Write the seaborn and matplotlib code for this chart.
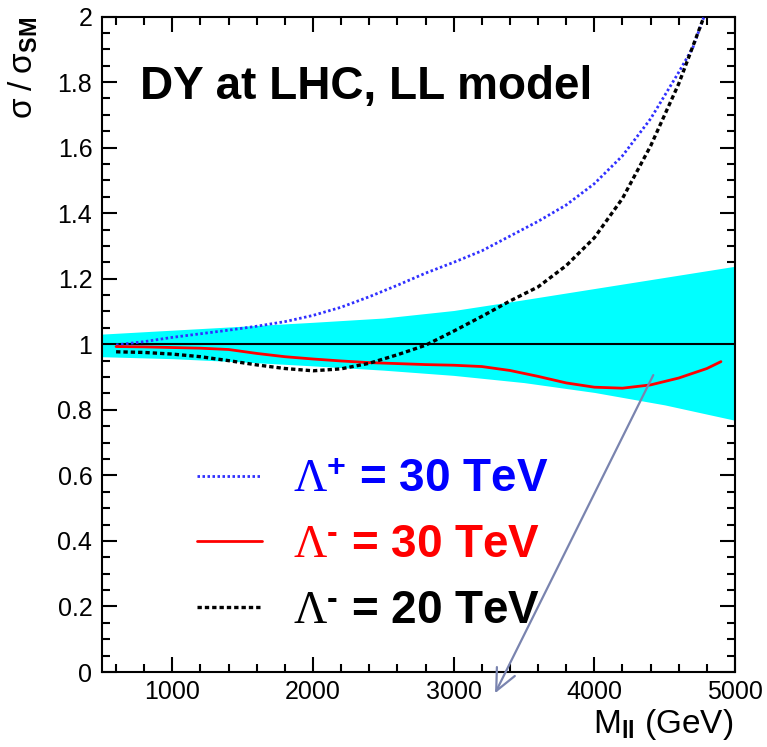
import numpy as np
import pandas as pd
import matplotlib
matplotlib.use("Agg")
import matplotlib.pyplot as plt
from matplotlib.ticker import MultipleLocator, FuncFormatter
import seaborn as sns

# Dilepton invariant mass (GeV) and sigma / sigma_SM for the contact-interaction scenarios
m_plus30 = [600, 800, 1000, 1200, 1400, 1600, 1800, 2000, 2200, 2400, 2600, 2800,
            3000, 3200, 3400, 3600, 3800, 4000, 4200, 4400, 4600, 4700, 4780]
r_plus30 = [0.998, 1.008, 1.021, 1.032, 1.043, 1.055, 1.069, 1.088, 1.113, 1.145, 1.180, 1.217,
            1.250, 1.285, 1.330, 1.375, 1.425, 1.490, 1.575, 1.688, 1.830, 1.905, 2.0]

m_minus30 = [600, 800, 1000, 1200, 1400, 1600, 1800, 2000, 2200, 2400, 2600, 2800,
             3000, 3200, 3400, 3600, 3800, 4000, 4200, 4400, 4600, 4800, 4900]
r_minus30 = [0.993, 0.992, 0.990, 0.988, 0.984, 0.972, 0.962, 0.955, 0.949, 0.944, 0.941, 0.938,
             0.936, 0.932, 0.920, 0.902, 0.882, 0.869, 0.866, 0.876, 0.897, 0.926, 0.947]

m_minus20 = [600, 800, 1000, 1200, 1400, 1600, 1800, 2000, 2200, 2400, 2600, 2800,
             3000, 3200, 3400, 3600, 3800, 4000, 4200, 4400, 4600, 4780]
r_minus20 = [0.977, 0.975, 0.970, 0.962, 0.950, 0.937, 0.926, 0.919, 0.925, 0.942, 0.968, 0.997,
             1.040, 1.085, 1.132, 1.175, 1.240, 1.325, 1.445, 1.605, 1.795, 2.0]

# SM uncertainty band
m_band = [500, 1000, 1500, 2000, 2500, 3000, 3500, 4000, 4500, 5000]
band_hi = [1.031, 1.043, 1.055, 1.067, 1.080, 1.103, 1.136, 1.170, 1.204, 1.238]
band_lo = [0.962, 0.956, 0.946, 0.934, 0.921, 0.905, 0.883, 0.853, 0.815, 0.768]

labels = [r"$\Lambda^{\mathbf{+}}$ = 30 TeV",
          "$\\Lambda^{\\mathbf{\u2010}}$ = 30 TeV",
          "$\\Lambda^{\\mathbf{\u2010}}$ = 20 TeV"]
colors = ["#3030ff", "#ff0000", "#000000"]
text_colors = ["#0000ff", "#ff0000", "#000000"]

sns.set_theme(style="ticks")
plt.rcParams["font.family"] = ["Liberation Sans", "DejaVu Sans"]
plt.rcParams["mathtext.fontset"] = "custom"
plt.rcParams["mathtext.rm"] = "Liberation Serif"
plt.rcParams["mathtext.it"] = "Liberation Serif:italic"
plt.rcParams["mathtext.bf"] = "Liberation Sans:bold"
plt.rcParams["axes.linewidth"] = 1.5
for key in ["text.color", "axes.labelcolor", "xtick.color", "ytick.color", "axes.edgecolor"]:
    plt.rcParams[key] = "black"

fig = plt.figure(figsize=(7.67, 7.47), dpi=100)
ax = fig.add_axes([0.1330, 0.1004, 0.8253, 0.8775])

ax.fill_between(m_band, band_lo, band_hi, color="#00ffff", lw=0, zorder=1)
ax.axhline(1.0, color="black", lw=1.5, zorder=2)

df_p30 = pd.DataFrame({"M": m_plus30, "ratio": r_plus30})
df_m30 = pd.DataFrame({"M": m_minus30, "ratio": r_minus30})
df_m20 = pd.DataFrame({"M": m_minus20, "ratio": r_minus20})

styles = [(0, (0.9, 0.9)), "-", (0, (1.3, 0.9))]
widths = [2.0, 2.0, 2.4]
for df, col, ls, lw, lab in zip([df_p30, df_m30, df_m20], colors, styles, widths, labels):
    sns.lineplot(data=df, x="M", y="ratio", color=col, lw=lw, ax=ax, label=lab,
                 estimator=None, sort=True, zorder=3)
    ax.lines[-1].set_linestyle(ls)

ax.set_xlim(500, 5000)
ax.set_ylim(0, 2)
ax.xaxis.set_major_locator(MultipleLocator(1000))
ax.xaxis.set_minor_locator(MultipleLocator(200))
ax.yaxis.set_major_locator(MultipleLocator(0.2))
ax.yaxis.set_minor_locator(MultipleLocator(0.05))
ax.yaxis.set_major_formatter(FuncFormatter(lambda v, p: f"{v:g}"))
ax.tick_params(which="both", direction="in", top=True, right=True, width=1.5,
               colors="black", labelsize=18)
ax.tick_params(which="major", length=11)
ax.tick_params(which="minor", length=6)
ax.tick_params(axis="y", pad=7)
ax.tick_params(axis="x", pad=6)
for s in ax.spines.values():
    s.set_linewidth(1.5)

ax.set_xlabel(r"$\mathregular{M_{\mathbf{ll}}}$ (GeV)", fontsize=24, loc="right")
ax.xaxis.set_label_coords(0.997, -0.053)
ax.set_ylabel(r"$\mathregular{\sigma\ /\ \sigma_{\mathbf{SM}}}$", fontsize=24, loc="top")
ax.yaxis.set_label_coords(-0.098, 1.0)

ax.text(0.06, 0.874, "DY at LHC, LL model", transform=ax.transAxes,
        fontsize=33, fontweight="bold", ha="left", va="baseline", color="black")

leg = ax.legend(loc="upper left", bbox_to_anchor=(0.1496, 0.327), frameon=False,
                fontsize=33, handlelength=1.42, handletextpad=0.68,
                labelspacing=0.47, borderpad=0, borderaxespad=0)
for t, c in zip(leg.get_texts(), text_colors):
    t.set_color(c)
    t.set_fontweight("bold")

ax.annotate("", xy=(3294, -0.065), xytext=(4419, 0.906), annotation_clip=False,
            arrowprops=dict(arrowstyle="->,head_length=1.3,head_width=0.6",
                            color="#7a84af", lw=1.6, shrinkA=0, shrinkB=0),
            zorder=5)

fig.savefig("out.png", dpi=100)
